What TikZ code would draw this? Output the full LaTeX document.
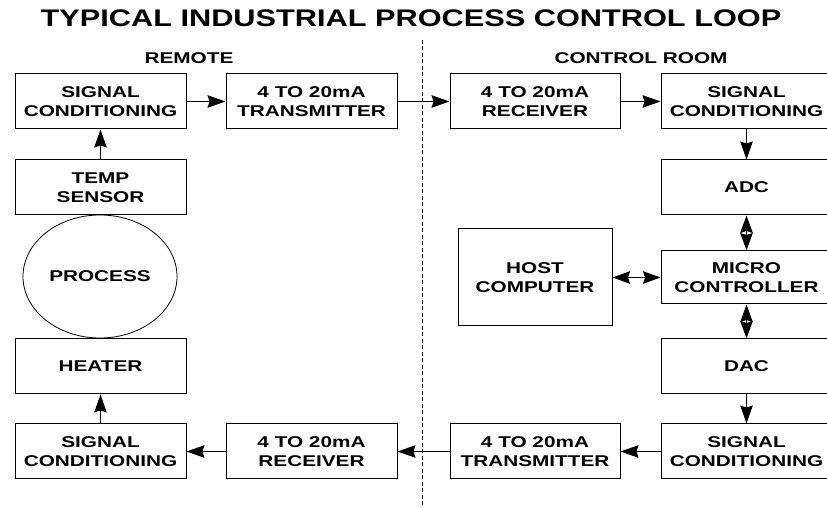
\documentclass[tikz,border=0pt]{standalone}
\usepackage{fontspec}
\setmainfont{Liberation Sans}[FakeStretch=1.33]
\newfontfamily\titlefont{Liberation Sans}[FakeStretch=1.28]
\usetikzlibrary{arrows.meta, shapes.geometric}

\begin{document}
\begin{tikzpicture}[
	x=1pt, y=1pt,
	% Define the style for the blocks and the arrows
	block/.style={draw, line width=1pt, inner sep=0pt, minimum width=171pt, minimum height=55pt,
		align=center, font=\fontsize{15.6}{19.5}\selectfont\bfseries},
	flow/.style={line width=1pt, -{Stealth[length=18pt, width=12.5pt, inset=2pt]}},
	bothway/.style={line width=1pt, {Stealth[length=17.5pt, width=12.5pt, inset=2pt]}-{Stealth[length=17.5pt, width=12.5pt, inset=2pt]}},
	heading/.style={font=\fontsize{15.6}{17}\selectfont\bfseries}
	]
	
	\clip (0,0) rectangle (827,508);
	
	% --- TITLES ---
	\node (title) at (411, 489.5) {\titlefont\fontsize{24}{26}\selectfont\bfseries TYPICAL INDUSTRIAL PROCESS CONTROL LOOP};
	\node (remote) at (189, 450) [heading] {REMOTE};
	\node (room) at (641, 450) [heading] {CONTROL ROOM};
	
	% --- DIVIDER ---
	\coordinate (divtop) at (422, 468);
	\coordinate (divbot) at (422, 0);
	\draw[line width=0.9pt, dash pattern=on 4pt off 2.5pt] (divtop) -- (divbot);
	
	% --- REMOTE SIDE ---
	% Format: \node (internal_name) at (x,y) [style] {text};
	
	\node (scin) at (100.5, 406.5) [block] {SIGNAL\\CONDITIONING};
	\node (txout) at (311.5, 406.5) [block] {4 TO 20mA\\TRANSMITTER};
	\node (sensor) at (100.5, 320.5) [block] {TEMP\\SENSOR};
	\node (process) at (100, 231.5) [draw, ellipse, line width=0.8pt, minimum width=154pt, minimum height=123pt,
		inner sep=0pt, font=\fontsize{15.6}{17}\selectfont\bfseries] {PROCESS};
	\node (heater) at (100.5, 141.5) [block] {HEATER};
	\node (scback) at (100.5, 56.5) [block] {SIGNAL\\CONDITIONING};
	\node (rxback) at (311.5, 56.5) [block] {4 TO 20mA\\RECEIVER};
	
	% --- CONTROL ROOM SIDE ---
	
	\node (rxin) at (535, 406.5) [block, minimum width=170pt] {4 TO 20mA\\RECEIVER};
	\node (scadc) at (746.5, 406.5) [block] {SIGNAL\\CONDITIONING};
	\node (adc) at (746.5, 320.5) [block] {ADC};
	\node (micro) at (746.5, 230.5) [block, minimum height=53pt] {MICRO\\CONTROLLER};
	\node (host) at (535, 230.5) [block, minimum width=154pt, minimum height=97pt] {HOST\\COMPUTER};
	\node (dac) at (746.5, 141.5) [block] {DAC};
	\node (scdac) at (746.5, 56.5) [block] {SIGNAL\\CONDITIONING};
	\node (txback) at (535, 56.5) [block, minimum width=170pt] {4 TO 20mA\\TRANSMITTER};
	
	% --- CONNECTIONS ---
	
	\draw[flow] (sensor) -- (scin);
	\draw[flow] (scin) -- (txout);
	\draw[flow] (txout) -- (rxin);
	\draw[flow] (rxin) -- (scadc);
	\draw[flow] (scadc) -- (adc);
	\draw[bothway] (adc) -- (micro);
	\draw[bothway] (host) -- (micro);
	\draw[bothway] (micro) -- (dac);
	\draw[flow] (dac) -- (scdac);
	\draw[flow] (scdac) -- (txback);
	\draw[flow] (txback) -- (rxback);
	\draw[flow] (rxback) -- (scback);
	\draw[flow] (scback) -- (heater);
	
\end{tikzpicture}
\end{document}
